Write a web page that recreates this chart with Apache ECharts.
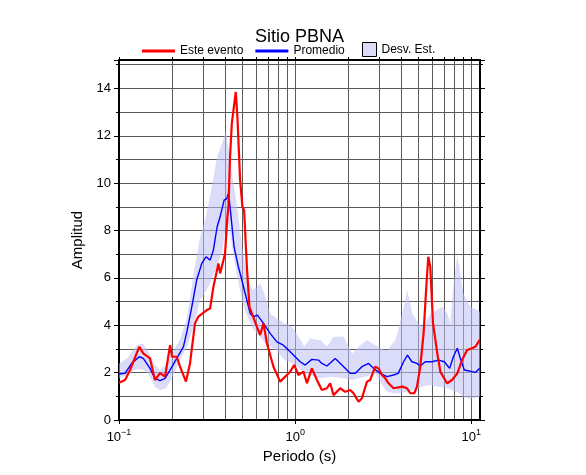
<!DOCTYPE html>
<html><head><meta charset="utf-8">
<script src="https://cdn.jsdelivr.net/npm/echarts@6/dist/echarts.min.js"></script>
<style>html,body{margin:0;padding:0;background:#fff}#c{width:586px;height:475px}</style>
</head><body><div id="c"></div>
<script>
// ---- data ----
const titleText = 'Sitio PBNA';
const seriesNames = ['Este evento', 'Promedio', 'Desv. Est.'];

const periodRed = [0.1,0.1082,0.1155,0.1304,0.1374,0.150,0.160,0.171,0.1826,0.195,0.200,0.2127,0.222,0.240,0.253,0.270,0.282,0.315,0.329,0.3434,0.3667,0.375,0.400,0.4124,0.418,0.427,0.437,0.446,0.460,0.470,0.487,0.502,0.513,0.532,0.550,0.606,0.6325,0.661,0.691,0.753,0.822,0.897,0.937,0.987,1.044,1.115,1.166,1.244,1.329,1.418,1.514,1.581,1.651,1.802,1.923,2.053,2.145,2.290,2.393,2.556,2.668,2.848,2.974,3.109,3.246,3.389,3.618,4.055,4.312,4.502,4.744,4.915,5.131,5.358,5.551,5.697,5.848,6.06,6.41,6.668,7.28,7.77,8.33,8.856,9.454,10.09,10.54,11.15];
const ampRed = [1.57,1.69,2.11,3.09,2.81,2.6,1.69,1.98,1.83,3.16,2.67,2.67,2.25,1.62,2.39,4.08,4.36,4.64,4.71,5.62,6.61,6.19,7.03,8.58,9.0,11.11,12.52,12.5,13.85,12.8,10.13,9.0,8.86,6.47,4.78,3.94,3.59,4.08,3.24,2.25,1.62,1.9,2.04,2.32,1.9,2.04,1.55,2.18,1.69,1.27,1.34,1.55,1.05,1.34,1.19,1.27,1.13,0.77,0.92,1.62,1.69,2.25,2.18,1.9,1.76,1.55,1.34,1.41,1.34,1.13,1.13,1.41,2.25,3.66,5.62,6.89,6.47,4.08,2.81,2.04,1.55,1.69,1.97,2.53,2.95,3.03,3.09,3.38];

const periodBlue = [0.1,0.1082,0.118,0.1304,0.1374,0.150,0.160,0.171,0.1826,0.200,0.2127,0.232,0.243,0.259,0.276,0.295,0.312,0.329,0.3434,0.3606,0.375,0.395,0.409,0.418,0.427,0.450,0.476,0.498,0.520,0.555,0.580,0.611,0.661,0.721,0.787,0.858,0.937,1.0,1.068,1.140,1.244,1.357,1.418,1.514,1.688,1.842,2.053,2.193,2.393,2.610,2.786,3.041,3.319,3.618,3.847,4.124,4.34,4.6,4.915,5.131,5.479,5.98,6.52,7.025,7.53,7.904,8.33,8.66,9.125,10.09,10.54,11.15];
const ampBlue = [1.94,1.97,2.39,2.67,2.6,2.18,1.76,1.66,1.76,2.25,2.6,3.09,3.73,4.78,5.91,6.61,6.89,6.75,7.17,8.16,8.58,9.28,9.35,9.56,9.0,7.31,6.47,5.91,5.35,4.5,4.36,4.43,4.08,3.66,3.3,3.16,2.88,2.67,2.46,2.32,2.56,2.53,2.39,2.28,2.6,2.32,1.97,1.97,2.25,2.39,2.18,1.97,1.83,1.9,1.97,2.46,2.74,2.46,2.39,2.28,2.46,2.46,2.53,2.46,2.18,2.67,3.03,2.6,2.11,2.04,2.01,2.18];

const periodBand = [0.1,0.111,0.1266,0.135,0.146,0.160,0.171,0.185,0.200,0.222,0.243,0.267,0.2885,0.312,0.3376,0.3606,0.385,0.4055,0.416,0.4385,0.468,0.500,0.534,0.570,0.608,0.6325,0.667,0.721,0.790,0.866,0.962,1.068,1.125,1.217,1.334,1.387,1.520,1.644,1.881,2.108,2.341,2.566,2.848,3.121,3.332,3.700,3.847,4.055,4.217,4.329,4.621,4.999,5.358,5.848,6.41,6.843,7.306,7.597,7.904,8.33,8.66,9.006,9.87,11.2];
const bandUpper = [2.39,2.6,3.16,3.24,2.95,2.32,2.11,2.32,2.8,3.4,4.3,6.3,7.73,8.6,9.9,11.1,11.7,12.24,11.6,10.4,9.0,7.3,6.05,5.5,5.6,5.77,5.35,4.5,4.29,4.08,3.94,3.4,3.1,3.45,3.38,3.38,3.09,3.51,3.51,2.81,3.16,3.38,3.16,3.0,2.95,3.38,3.8,4.5,5.06,5.49,4.5,4.08,3.94,4.5,4.64,4.78,4.5,4.08,5.62,6.96,6.19,5.35,4.78,4.57];
const bandLower = [1.75,1.9,2.15,2.15,1.97,1.4,1.27,1.34,1.76,2.53,3.1,4.0,5.06,5.45,5.95,6.5,7.1,8.2,8.44,7.3,6.1,5.0,4.4,3.9,3.66,3.5,3.3,3.1,2.9,2.55,2.39,2.15,1.97,1.9,1.78,1.76,1.8,1.83,1.76,1.69,1.78,1.85,1.97,1.48,1.19,1.13,1.13,1.15,1.18,1.19,1.25,1.34,1.42,1.48,1.41,1.38,1.34,1.3,1.22,1.19,1.1,0.98,0.9,0.98];

const xTickValues = [0.1,0.2,0.3,0.4,0.5,0.6,0.7,0.8,0.9,1,2,3,4,5,6,7,8,9,10];
const xLabelValues = [0.1,1,10];
const xMin = 0.1, xMax = 11.2;
const yMin = 0, yMax = 15.2, yInterval = 2;

// ---- chart ----
const FONT = 'Liberation Sans, Arial, Helvetica, sans-serif';
const GRIDC = '#5a5a5a';
const BANDC = 'rgba(190,190,245,0.55)';
const zip = (a, b) => a.map((v, i) => [v, b[i]]);
const LINE_ICON = 'path://M0,0H33V3H0Z';
const legendText = {fontFamily: FONT, fontSize: 12, color: '#000'};

const chart = echarts.init(document.getElementById('c'), null, {renderer: 'canvas'});
chart.setOption({
  animation: false,
  backgroundColor: '#fff',
  textStyle: {fontFamily: FONT, color: '#000'},
  title: {
    text: titleText, left: 250, top: 23,
    textStyle: {fontFamily: FONT, fontSize: 18, fontWeight: 'normal', color: '#000'}
  },
  legend: [{
    left: 137, top: 40, itemWidth: 33, itemHeight: 14, itemGap: 12,
    textStyle: legendText,
    data: [
      {name: seriesNames[0], icon: LINE_ICON},
      {name: seriesNames[1], icon: LINE_ICON}
    ]
  }, {
    left: 357, top: 37, itemWidth: 14, itemHeight: 14,
    textStyle: legendText,
    data: [
      {name: seriesNames[2], icon: 'rect',
       itemStyle: {color: '#dcdcf8', borderColor: '#000', borderWidth: 1}}
    ]
  }],
  grid: {left: 119, right: 106, top: 60, bottom: 55},
  xAxis: [{
    type: 'log', logBase: 10, min: xMin, max: xMax, position: 'bottom',
    name: 'Periodo (s)', nameLocation: 'middle', nameGap: 24,
    nameTextStyle: {fontFamily: FONT, fontSize: 15, color: '#000'},
    axisLine: {show: true, onZero: false, lineStyle: {color: '#000', width: 2}},
    axisTick: {show: true, length: 4, customValues: xLabelValues, lineStyle: {color: '#000'}},
    axisLabel: {
      customValues: xLabelValues, margin: 8, color: '#000',
      formatter: v => {
        const e = Math.round(Math.log10(v));
        return '{b|10}{e|' + (e < 0 ? '\u2212' + (-e) : e) + '}';
      },
      rich: {
        b: {fontFamily: FONT, fontSize: 13, color: '#000', verticalAlign: 'bottom', lineHeight: 16},
        e: {fontFamily: FONT, fontSize: 9, color: '#000', verticalAlign: 'top', lineHeight: 10}
      }
    },
    splitLine: {show: false}
  }, {
    type: 'log', logBase: 10, min: xMin, max: xMax, position: 'top',
    axisLine: {show: true, onZero: false, lineStyle: {color: '#000', width: 2}},
    axisTick: {show: true, length: 3, customValues: xTickValues, lineStyle: {color: '#000'}},
    axisLabel: {show: false},
    splitLine: {show: true, lineStyle: {color: GRIDC, width: 1}}
  }],
  yAxis: [{
    type: 'value', min: yMin, max: yMax, interval: yInterval, position: 'left',
    name: 'Amplitud', nameLocation: 'middle', nameGap: 26,
    nameTextStyle: {fontFamily: FONT, fontSize: 15, color: '#000'},
    axisLine: {show: true, onZero: false, lineStyle: {color: '#000', width: 2}},
    axisTick: {show: true, length: 5, lineStyle: {color: '#000'}},
    minorTick: {show: true, splitNumber: 2, length: 3, lineStyle: {color: '#000'}},
    axisLabel: {fontFamily: FONT, fontSize: 13, color: '#000', margin: 8, showMaxLabel: false},
    splitLine: {show: true, lineStyle: {color: GRIDC, width: 1}},
    minorSplitLine: {show: true, lineStyle: {color: GRIDC, width: 1}}
  }, {
    type: 'value', min: yMin, max: yMax, interval: yInterval, position: 'right',
    axisLine: {show: true, onZero: false, lineStyle: {color: '#000', width: 2}},
    axisTick: {show: true, length: 5, lineStyle: {color: '#000'}},
    minorTick: {show: true, splitNumber: 2, length: 3, lineStyle: {color: '#000'}},
    axisLabel: {show: false},
    splitLine: {show: false}
  }],
  series: [{
    name: seriesNames[2], type: 'custom', xAxisIndex: 0, yAxisIndex: 0,
    itemStyle: {color: '#dcdcf8'},
    data: [[1, 2]], encode: {x: 0, y: 1}, silent: true, z: 1,
    renderItem: (params, api) => {
      if (params.dataIndex !== 0) return null;
      const pts = [];
      for (let i = 0; i < periodBand.length; i++) pts.push(api.coord([periodBand[i], bandUpper[i]]));
      for (let i = periodBand.length - 1; i >= 0; i--) pts.push(api.coord([periodBand[i], bandLower[i]]));
      return {type: 'polygon', shape: {points: pts}, style: {fill: BANDC}};
    }
  }, {
    name: seriesNames[1], type: 'line', xAxisIndex: 0, yAxisIndex: 0,
    data: zip(periodBlue, ampBlue), symbol: 'none', z: 3,
    lineStyle: {color: '#0000ff', width: 1.4}, itemStyle: {color: '#0000ff'}
  }, {
    name: seriesNames[0], type: 'line', xAxisIndex: 0, yAxisIndex: 0,
    data: zip(periodRed, ampRed), symbol: 'none', z: 4,
    lineStyle: {color: '#ff0000', width: 2.2}, itemStyle: {color: '#ff0000'}
  }]
});
</script>
</body></html>
